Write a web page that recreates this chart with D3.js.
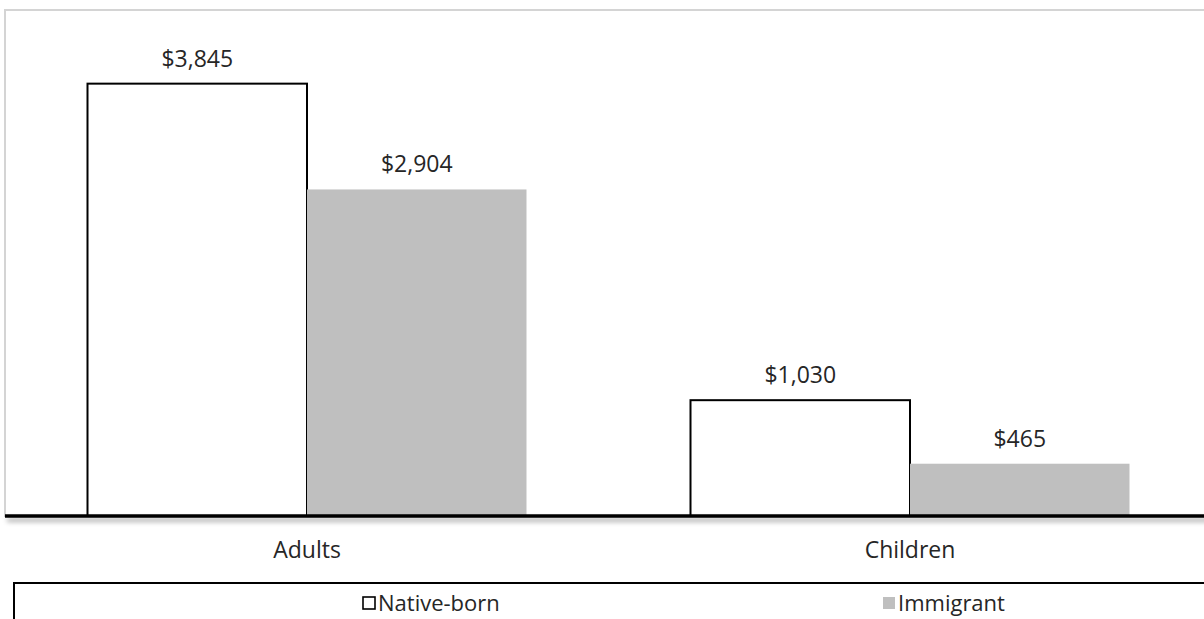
<!DOCTYPE html>
<html><head><meta charset="utf-8">
<script src="https://cdn.jsdelivr.net/npm/d3@7"></script>
<style>body{margin:0;background:#fff;overflow:hidden}</style>
</head><body>
<script>
const categories = ["Adults", "Children"];
const seriesNames = ["Native-born", "Immigrant"];
const nativeValues = [3845, 1030];
const immigrantValues = [2904, 465];
const labelFmt = d3.format("$,");

const W = 1204, H = 619;
const FS = 23;
const svg = d3.select("body").append("svg").attr("width", W).attr("height", H)
  .style("font-family", "'Open Sans', sans-serif");

const defs = svg.append("defs");
const f = defs.append("filter").attr("id","sh").attr("filterUnits","userSpaceOnUse")
  .attr("x",-20).attr("y",-20).attr("width",1300).attr("height",60);
f.append("feGaussianBlur").attr("in","SourceAlpha").attr("stdDeviation",2.5);
f.append("feOffset").attr("dx",2).attr("dy",4).attr("result","b");
f.append("feComponentTransfer").append("feFuncA").attr("type","linear").attr("slope",0.35);
const m = f.append("feMerge"); m.append("feMergeNode"); m.append("feMergeNode").attr("in","SourceGraphic");

const x0 = 5.5, x1 = 1211.5, yTop = 10, yBase = 516;
const x = d3.scaleBand().domain(categories).range([x0, x1]).paddingInner(0).paddingOuter(0);
const xs = d3.scaleBand().domain(seriesNames).range([0, x.bandwidth()]).paddingInner(0).paddingOuter(0.3736);
const y = d3.scaleLinear().domain([0, 4500]).range([yBase, yTop]);

// plot border
svg.append("rect").attr("x", 5).attr("y", 10).attr("width", 1210).attr("height", yBase - 10)
  .attr("fill","none").attr("stroke","#d4d4d4").attr("stroke-width",2);

const data = categories.map((c,i)=>({cat:c, vals:[nativeValues[i], immigrantValues[i]]}));
const g = svg.append("g");
data.forEach(d=>{
  d.vals.forEach((v,j)=>{
    const bx = x(d.cat) + xs(seriesNames[j]);
    const bw = xs.bandwidth();
    g.append("rect").attr("x", bx).attr("y", y(v)).attr("width", bw).attr("height", yBase - y(v))
      .attr("fill", j===0 ? "#ffffff" : "#bfbfbf")
      .attr("stroke", j===0 ? "#000" : "none").attr("stroke-width", 2);
    g.append("text").attr("x", bx + bw/2).attr("y", y(v) - 17).attr("text-anchor","middle")
      .attr("font-size", FS).attr("fill","#262626").text(labelFmt(v));
  });
});

// axis
const ax = svg.append("g").attr("transform", `translate(0,${yBase})`).call(d3.axisBottom(x).tickSize(0).tickPadding(0));
ax.select(".domain").attr("stroke","#000").attr("stroke-width",3.5).attr("d", `M5,0H1210`).attr("filter","url(#sh)");
ax.selectAll(".tick text").attr("y", 42).attr("dy", null).attr("font-size", FS).attr("fill","#262626")
  .style("font-family","'Open Sans', sans-serif");

// legend
svg.append("rect").attr("x", 14).attr("y", 583).attr("width", 1200).attr("height", 60)
  .attr("fill","#fff").attr("stroke","#000").attr("stroke-width",2);
const legX = [362, 882];
seriesNames.forEach((s,j)=>{
  svg.append("rect").attr("x", legX[j] + 1).attr("y", 597).attr("width", 12).attr("height", 12)
    .attr("fill", j===0 ? "#fff" : "#bfbfbf").attr("stroke", j===0 ? "#000":"none").attr("stroke-width",1.6);
  svg.append("text").attr("x", legX[j] + 16).attr("y", 611).attr("font-size", FS - 1).attr("fill","#262626").text(s);
});
</script>
</body></html>
